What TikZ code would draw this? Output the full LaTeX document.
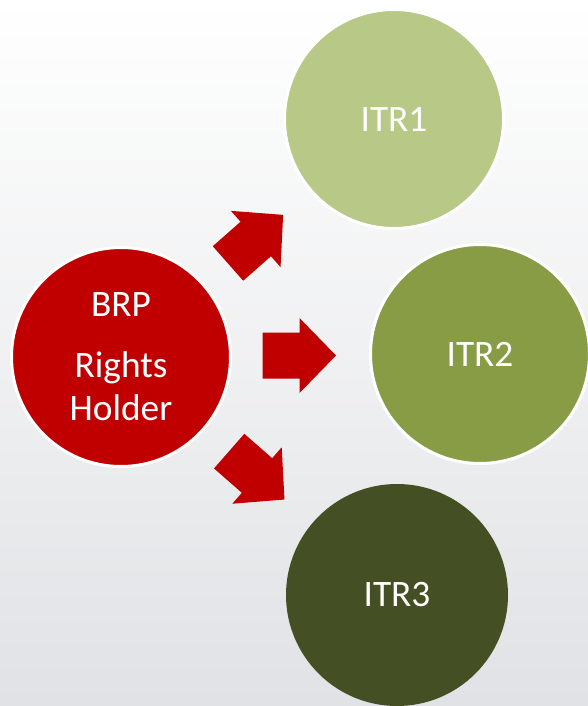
\documentclass[tikz,border=0pt]{standalone}
\usepackage{fontspec}
\setmainfont{Carlito}
\definecolor{brpred}{HTML}{C00000}
\definecolor{itrA}{HTML}{B8C886}
\definecolor{itrB}{HTML}{879C45}
\definecolor{itrC}{HTML}{444F24}
\definecolor{bgmid}{HTML}{F3F3F4}
\definecolor{bgbottom}{HTML}{E1E2E5}
\begin{document}
\begin{tikzpicture}[x=0.75pt,y=-0.75pt,
  circ/.style={circle, draw=white, line width=2.25pt, minimum size=164.25pt, inner sep=0pt},
  plaincirc/.style={circle, draw=none, minimum size=166.5pt, inner sep=0pt},
  lbl/.style={text=white, font=\fontsize{28}{32.25}\selectfont, align=center, inner sep=0pt},
  blockarrow/.pic={\fill[brpred] (-37,-23) -- (0,-23) -- (0,-37.5) -- (36.5,0) -- (0,37.5) -- (0,23) -- (-37,23) -- cycle;}
]
\shade[top color=white, middle color=bgmid, bottom color=bgbottom] (0,0) rectangle (588,706);
\useasboundingbox (0,0) rectangle (588,706);

\node[circ, fill=brpred] (brp) at (121,357) {};
\node[circ, fill=itrA] (itr1) at (394,119) {};
\node[circ, fill=itrB] (itr2) at (480,354) {};
\node[plaincirc, fill=itrC] (itr3) at (397,595) {};

\node[lbl] (brptext) at (brp) {BRP\\[13.5pt]Rights\\Holder};
\node[lbl] (itr1text) at (itr1) {ITR1};
\node[lbl] (itr2text) at (itr2) {ITR2};
\node[lbl] (itr3text) at (itr3) {ITR3};

\pic[rotate=41.4] at (255.75,239) {blockarrow};
\pic at (299.5,355.5) {blockarrow};
\pic[rotate=-41.2] at (257,475.5) {blockarrow};
\end{tikzpicture}
\end{document}
